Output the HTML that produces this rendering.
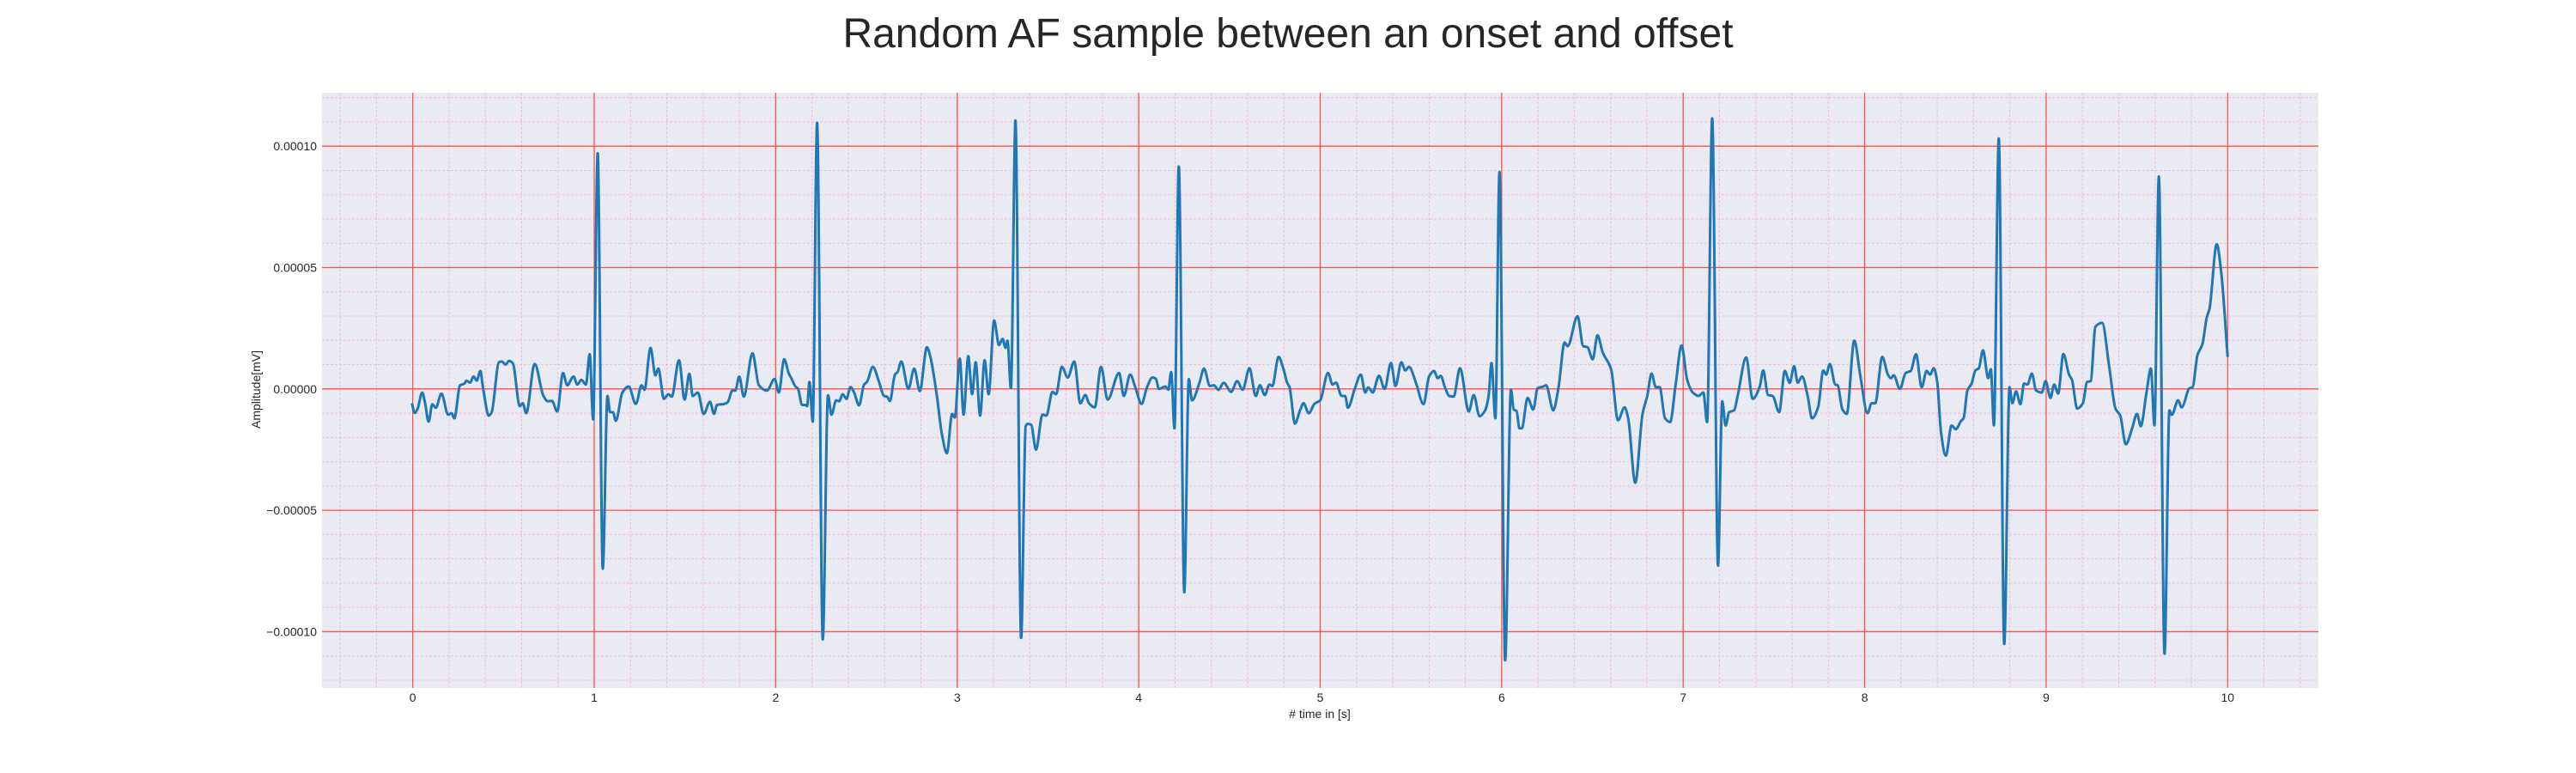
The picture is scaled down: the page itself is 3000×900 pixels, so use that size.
<!DOCTYPE html>
<html><head><meta charset="utf-8"><style>
html,body{margin:0;padding:0;background:#fff;}
svg{display:block;font-family:"Liberation Sans",Arial,sans-serif;}
</style></head><body>
<svg id="chart" width="3000" height="900" viewBox="0 0 3000 900" xmlns="http://www.w3.org/2000/svg">
<text x="1500" y="55" font-size="48" text-anchor="middle" fill="#262626">Random AF sample between an onset and offset</text>
<rect x="375" y="108" width="2325" height="693" fill="#eaeaf2"/>
<g id="grid-minor"></g>
<g id="grid-major"></g>
<g id="ticks"></g>
<g id="series"></g>
<text x="1537" y="836" font-size="14" text-anchor="middle" fill="#262626"># time in [s]</text>
<text transform="translate(303,453.5) rotate(-90)" font-size="14" text-anchor="middle" fill="#262626">Amplitude[mV]</text>
</svg>
<script>
// data (amplitude in units of 1e-5 mV)
const xTicks = [0,1,2,3,4,5,6,7,8,9,10];
const yTicks = [-10,-5,0,5,10];
const yTickLabels = ["\u22120.00010","\u22120.00005","0.00000","0.00005","0.00010"];
const times = [-0.005,0.011,0.027,0.052,0.068,0.087,0.108,0.127,0.158,0.195,0.214,0.229,0.261,0.285,0.296,0.316,0.335,0.353,0.372,0.388,0.419,0.435,0.475,0.491,0.511,0.530,0.551,0.590,0.606,0.625,0.672,0.720,0.744,0.767,0.796,0.828,0.851,0.886,0.907,0.929,0.954,0.975,0.994,1.019,1.047,1.073,1.087,1.103,1.119,1.155,1.190,1.229,1.261,1.277,1.310,1.337,1.353,1.384,1.408,1.427,1.467,1.498,1.524,1.543,1.571,1.603,1.638,1.660,1.677,1.717,1.736,1.761,1.777,1.799,1.824,1.872,1.907,1.951,1.994,2.017,
2.047,2.071,2.086,2.107,2.123,2.145,2.165,2.173,2.186,2.204,2.228,2.259,2.288,2.307,2.333,2.349,2.369,2.390,2.412,2.432,2.459,2.487,2.503,2.535,2.569,2.597,2.613,2.629,2.657,2.671,2.692,2.731,2.763,2.794,2.833,2.852,2.888,2.915,2.943,2.972,2.987,3.014,3.035,3.061,3.082,3.102,3.126,3.151,3.173,3.203,3.230,3.250,3.266,3.277,3.296,3.321,3.352,3.377,3.387,3.407,3.434,3.470,3.491,3.525,3.544,3.577,3.609,3.645,3.678,3.706,3.726,3.758,3.792,3.829,3.892,3.918,3.953,3.981,4.016,4.044,
4.076,4.095,4.111,4.147,4.163,4.179,4.197,4.221,4.251,4.276,4.294,4.336,4.360,4.392,4.415,4.439,4.468,4.510,4.542,4.573,4.610,4.645,4.668,4.695,4.720,4.736,4.771,4.795,4.818,4.831,4.861,4.889,4.908,4.937,4.968,5.000,5.043,5.068,5.087,5.118,5.137,5.153,5.190,5.224,5.248,5.265,5.289,5.324,5.355,5.390,5.415,5.447,5.469,5.489,5.529,5.569,5.600,5.627,5.648,5.664,5.687,5.711,5.735,5.770,5.819,5.846,5.878,5.909,5.928,5.944,5.965,5.988,6.019,6.051,6.066,6.082,6.098,
6.111,6.143,6.174,6.198,6.229,6.245,6.284,6.312,6.347,6.363,6.418,6.449,6.473,6.501,6.528,6.556,6.603,6.641,6.677,6.697,6.736,6.776,6.802,6.826,6.849,6.870,6.900,6.928,6.959,6.991,7.022,7.053,7.085,7.111,7.132,7.160,7.192,7.215,7.234,7.253,7.281,7.301,7.347,7.383,7.422,7.441,7.468,7.493,7.529,7.560,7.587,7.611,7.631,7.655,7.686,7.710,7.744,7.772,7.788,7.808,7.838,7.851,7.877,7.901,7.943,7.975,8.016,8.038,8.058,8.097,
8.128,8.144,8.160,8.194,8.226,8.254,8.283,8.314,8.341,8.360,8.381,8.400,8.420,8.447,8.479,8.502,8.531,8.545,8.566,8.589,8.610,8.629,8.652,8.681,8.695,8.712,8.739,8.769,8.798,8.814,8.834,8.858,8.878,8.897,8.921,8.945,8.976,8.997,9.024,9.044,9.066,9.095,9.126,9.142,9.171,9.202,9.226,9.245,9.272,9.308,9.348,9.382,9.408,9.439,9.474,9.501,9.521,9.553,9.577,9.597,9.621,9.652,9.679,9.692,9.727,9.747,9.790,9.806,9.834,9.861,9.885,9.900,9.940,9.964,10.000];
const amplitudes = [-0.59,-0.99,-0.81,-0.15,-0.59,-1.35,-0.63,-0.78,-0.19,-1.06,-1.00,-1.21,0.15,0.22,0.34,0.26,0.51,0.34,0.74,0,-1.10,-0.96,1.10,1.13,1.00,1.15,1.07,-0.71,-0.59,-1.00,1.03,-0.29,-0.51,-0.49,-0.93,0.66,0.15,0.51,0.18,0.37,0.18,1.43,-1.26,9.71,-7.41,-0.29,-0.96,-0.96,-1.32,-0.15,0.10,-0.62,0.15,-0.04,1.69,0.56,0.84,-0.41,-0.22,-0.32,1.18,-0.44,0.62,-0.29,-0.15,-1.03,-0.53,-1.03,-0.66,-0.62,-0.54,-0.07,-0.07,0.51,-0.32,1.47,0.15,-0.07,0.41,-0.15,
1.22,0.66,0.44,0.12,0,-0.66,-0.66,-0.71,0.29,-1.35,10.96,-10.32,-0.26,-1.06,-0.47,-0.51,-0.22,-0.41,0.07,-0.15,-0.68,0.18,0.29,0.91,0.29,-0.29,-0.32,-0.50,0.59,0.69,1.13,0,0.84,-0.09,1.72,1.32,-0.29,-1.84,-2.65,-1.03,-1.18,1.25,-1.06,1.35,-0.22,1.10,-1.10,1.18,-0.22,2.82,1.81,2.06,1.69,1.99,0.03,11.06,-10.26,-1.54,-1.44,-1.47,-2.50,-1.06,-1.10,-0.12,-0.22,0.91,0.47,1.13,-0.59,-0.25,-0.59,-0.76,0.91,-0.44,0.66,-0.29,0.59,0.07,-0.62,0.03,
0.47,0.41,0,0.10,-0.03,0.69,-1.62,9.16,-8.38,0.40,-0.47,0.29,0.84,0.12,0.15,-0.04,0.25,-0.12,0.32,-0.03,0.85,-0.29,0.15,-0.25,0.18,0.12,1.32,0.88,0.26,0.07,-1.43,-0.88,-0.59,-1.00,-0.62,-0.47,0.66,0.18,0.26,-0.29,-0.29,-0.78,0,0.59,-0.15,0.06,-0.15,0.54,0,1.07,0.12,1.10,0.76,0.91,0.22,-0.63,0.51,0.74,0.44,0.54,0.07,-0.29,-0.32,0.85,-0.93,-0.25,-1.13,-0.88,-0.29,1.07,-1.21,8.93,-11.18,-0.03,-0.85,-0.91,-1.62,
-1.62,-0.37,-0.85,0.03,0.10,0.15,-0.88,0,1.91,1.76,2.99,1.76,1.72,1.22,2.21,1.51,0.81,-1.29,-0.76,-1.21,-3.87,-1.03,-0.29,0.63,0.07,0.07,-1.21,-1.37,0.22,1.79,0.37,-0.15,-0.29,-0.15,-1.37,11.15,-7.28,-0.51,-1.51,-0.96,-0.88,-0.26,1.29,-0.41,0.10,0.76,-0.25,-0.29,-0.96,0.74,0.25,0.94,0.26,0.51,-0.29,-1.21,-0.74,0.76,0.59,1.03,0.18,0.15,-0.84,-1.03,1.99,0.59,-1.00,-0.59,-0.59,1.32,
0.59,0.44,0.56,0,0.66,0.74,1.43,0.07,0.74,0.59,0.85,0.29,-1.76,-2.75,-1.51,-1.66,-1.32,-1.21,-0.07,0.22,0.76,0.85,1.59,0.44,0.81,-1.50,10.32,-10.51,0.07,-0.59,-0.10,-0.63,0.22,0.18,0.63,-0.07,-0.15,0.32,-0.37,0.18,-0.19,1.44,0.59,0.37,-0.81,-0.59,0.29,0.32,2.57,2.72,0.88,-0.81,-1.10,-2.28,-1.62,-1.03,-1.54,-0.15,0.84,-1.50,8.75,-10.91,-0.88,-1.07,-0.47,-0.76,0.03,0.06,1.40,1.84,2.94,3.31,5.96,4.85,1.32];

const X0=375, X1=2700, Y0=108, Y1=801;
const xMin=-0.5, xMax=10.5, yMin=-12.32, yMax=12.20;
function sx(t){return X0+(t-xMin)/(xMax-xMin)*(X1-X0);}
function sy(v){return Y1-(v-yMin)/(yMax-yMin)*(Y1-Y0);}
const NS='http://www.w3.org/2000/svg';
function mk(tag,attrs,parent){const e=document.createElementNS(NS,tag);for(const k in attrs)e.setAttribute(k,attrs[k]);parent.appendChild(e);return e;}
const gMin=document.getElementById('grid-minor'), gMaj=document.getElementById('grid-major'), gT=document.getElementById('ticks'), gS=document.getElementById('series');
for(let i=-2;i<=52;i++){ if(i%5===0) continue; const x=sx(i*0.2);
  const l=mk('line',{x1:x,x2:x,y1:Y0,y2:Y1,stroke:'#f4b8e2','stroke-width':1,'stroke-dasharray':'3,2'},gMin);
  
  
}
for(let i=-12;i<=12;i++){ if(i%5===0) continue; const y=sy(i);
  const l=mk('line',{x1:X0,x2:X1,y1:y,y2:y,stroke:'#f4b8e2','stroke-width':1,'stroke-dasharray':'3,2'},gMin);
  
  
}
xTicks.forEach(t=>{const x=sx(t);
  const l=mk('line',{x1:x,x2:x,y1:Y0,y2:Y1,stroke:'#ff5050','stroke-width':1.3},gMaj);
  
  
  const tx=mk('text',{x:x,y:817,'font-size':14,'text-anchor':'middle',fill:'#262626'},gT);
  tx.textContent=String(t);
  
  
});
yTicks.forEach((v,i)=>{const y=sy(v);
  const l=mk('line',{x1:X0,x2:X1,y1:y,y2:y,stroke:'#ff5050','stroke-width':1.3},gMaj);
  
  
  const tx=mk('text',{x:369,y:y+5,'font-size':14,'text-anchor':'end',fill:'#262626'},gT);
  tx.textContent=yTickLabels[i];
  
  
});
// monotone cubic (no overshoot) path
const px=times.map(sx), py=amplitudes.map(sy), n=px.length;
const sl=[]; for(let i=0;i<n-1;i++){sl.push((py[i+1]-py[i])/(px[i+1]-px[i]));}
const m=new Array(n);
m[0]=sl[0]; m[n-1]=sl[n-2];
for(let i=1;i<n-1;i++){ if(sl[i-1]*sl[i]<=0) m[i]=0; else { const h0=px[i]-px[i-1], h1=px[i+1]-px[i]; m[i]=3*(h0+h1)/((2*h1+h0)/sl[i-1]+(h1+2*h0)/sl[i]); } }
let d='M'+px[0].toFixed(1)+','+py[0].toFixed(1);
for(let i=0;i<n-1;i++){ const h=(px[i+1]-px[i])/3;
  d+='C'+(px[i]+h).toFixed(1)+','+(py[i]+m[i]*h).toFixed(1)+' '+(px[i+1]-h).toFixed(1)+','+(py[i+1]-m[i+1]*h).toFixed(1)+' '+px[i+1].toFixed(1)+','+py[i+1].toFixed(1);
}
const p=mk('path',{d:d,fill:'none',stroke:'#1f77b4','stroke-width':3,'stroke-linejoin':'round','stroke-linecap':'butt'},gS);


</script>
</body></html>
